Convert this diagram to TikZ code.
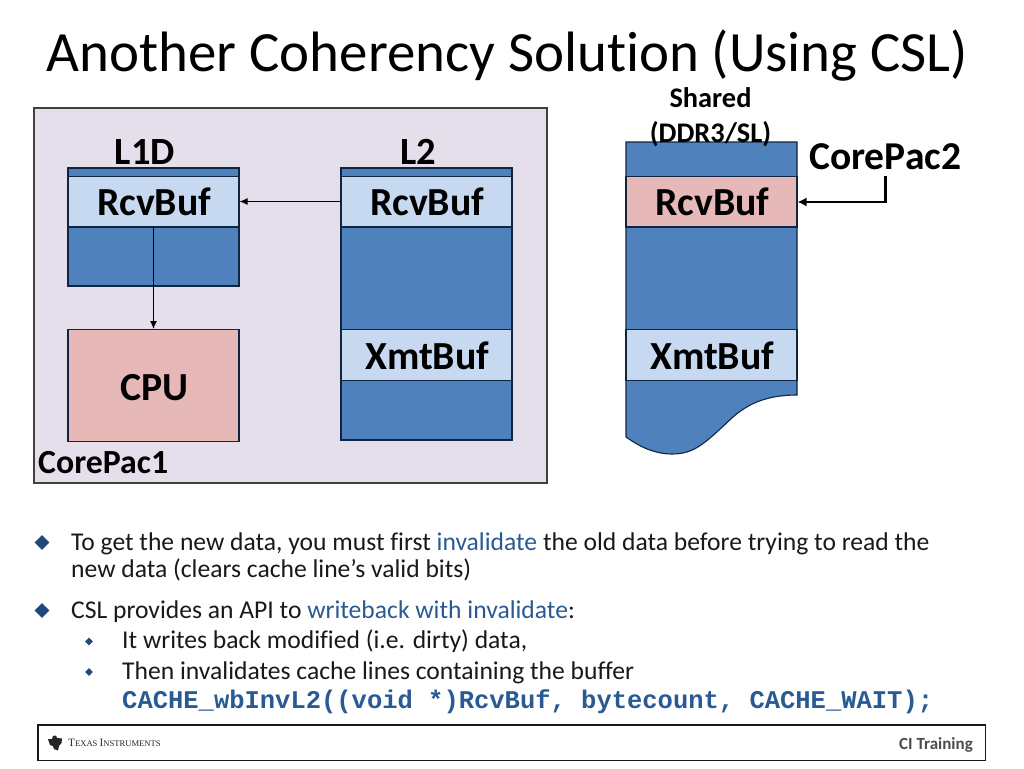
\documentclass[tikz,border=0pt]{standalone}
\usepackage{fontspec}
\setmainfont[RawFeature={-liga}]{Carlito}
\newfontfamily\codefont{Liberation Mono}
\newfontfamily\logofont{Liberation Serif}
\usetikzlibrary{arrows.meta,shapes.geometric}
\definecolor{panel}{HTML}{E5DFEC}
\definecolor{blockblue}{HTML}{4F81BD}
\definecolor{lightblue}{HTML}{C6D9F0}
\definecolor{pinkred}{HTML}{E6B9B8}
\definecolor{edgeblue}{HTML}{10253F}
\definecolor{accent}{HTML}{2A5A94}
\definecolor{bulletblue}{HTML}{1F497D}
\tikzset{
  x=1pt,y=-1pt,
  memblock/.style={draw=edgeblue,line width=1.1pt,fill=blockblue},
  bufblock/.style={draw=edgeblue,line width=1.1pt,fill=lightblue},
  redblock/.style={draw=edgeblue,line width=1.1pt,fill=pinkred},
  bigtext/.style={font=\fontsize{39.8}{39.8}\selectfont\bfseries,inner sep=0pt,anchor=center,yshift=-0.5pt,xshift=0.7pt},
  headtext/.style={font=\fontsize{38.5}{38.5}\selectfont\bfseries,inner sep=0pt,anchor=base},
  bodytext/.style={font=\fontsize{25.6}{25.6}\selectfont,inner sep=0pt,anchor=base west,text=black!90},
  thinarrow/.style={draw=black,line width=1.3pt,-{Latex[length=8pt,width=7pt]}},
  thickarrow/.style={draw=black,line width=2.6pt,-{Latex[length=9pt,width=9pt]}},
  bigbullet/.style={diamond,fill=bulletblue,inner sep=0pt,minimum width=15pt,minimum height=15pt},
  smallbullet/.style={diamond,fill=bulletblue,inner sep=0pt,minimum width=8pt,minimum height=8pt},
}
\begin{document}
\begin{tikzpicture}
\useasboundingbox (0,0) rectangle (1024,768);
\fill[white] (0,0) rectangle (1024,768);
\node[inner sep=0pt,anchor=base] (title) at (507.5,71) {\fontsize{56.9}{56.9}\selectfont Another Coherency Solution (Using CSL)};
% CorePac1 panel
\draw[fill=panel,draw=black!75,line width=1.3pt] (34,108) rectangle (547,483);
% L1D
\draw[memblock] (68,168) rectangle (239,286);
\draw[bufblock] (68,176.5) rectangle (239,227) node[midway,bigtext] (l1buf) {RcvBuf};
\draw[redblock] (68,329.5) rectangle (239,441.5) node[midway,bigtext,yshift=-1.5pt] (cpu) {CPU};
% L2
\draw[memblock] (341,168) rectangle (512,440);
\draw[bufblock] (341,176.5) rectangle (512,227) node[midway,bigtext] (l2buf) {RcvBuf};
\draw[bufblock] (341,329.5) rectangle (512,380.5) node[midway,bigtext] (l2xmt) {XmtBuf};
% Shared
\path[memblock] (626,142) -- (797,142) -- (797,395)
  .. controls (770,395) and (750,402) .. (733,417)
  .. controls (705,443) and (695,454) .. (672,454)
  .. controls (655,454) and (640,447) .. (626,437) -- cycle;
\draw[redblock] (626,176.5) rectangle (797,227) node[midway,bigtext] (shbuf) {RcvBuf};
\draw[bufblock] (626,329.5) rectangle (797,380.5) node[midway,bigtext] (shxmt) {XmtBuf};
% labels
\node[headtext] (l1dl) at (145,164) {L1D};
\node[headtext] (l2l) at (418.5,164) {L2};
\node[inner sep=0pt,anchor=base west,font=\fontsize{33.8}{33.8}\selectfont\bfseries] (cp1) at (38,473) {CorePac1};
\node[inner sep=0pt,anchor=base west,font=\fontsize{39.5}{39.5}\selectfont\bfseries] (cp2) at (809,169) {CorePac2};
\node[inner sep=0pt,anchor=base,font=\fontsize{28.4}{28.4}\selectfont\bfseries] (sh1) at (710.5,107) {Shared};
\node[inner sep=0pt,anchor=base,font=\fontsize{28.4}{28.4}\selectfont\bfseries] (sh2) at (710.5,142) {(DDR3/SL)};
% connectors
\coordinate (l2left) at (341,201.5);
\coordinate (l1right) at (239.5,201.5);
\coordinate (l1bottom) at (153.5,227);
\coordinate (cputop) at (153.5,329);
\coordinate (cpdrop) at (885.5,176);
\coordinate (cpelbow) at (885.5,202);
\coordinate (shright) at (797.5,202);
\draw[thinarrow] (l2left) -- (l1right);
\draw[thinarrow] (l1bottom) -- (cputop);
\draw[thickarrow] (cpdrop) -- (cpelbow) -- (shright);
% bullets
\node[bigbullet] (b1) at (42,542.5) {};
\node[bodytext] (t1a) at (71,550.5) {To get the new data, you must first \textcolor{accent}{invalidate} the old data before trying to read the};
\node[bodytext] (t1b) at (71,577.5) {new data (clears cache line’s valid bits)};
\node[bigbullet] (b2) at (42,610.5) {};
\node[bodytext] (t2) at (71,618.5) {CSL provides an API to \textcolor{accent}{writeback with invalidate}:};
\node[smallbullet] (b3) at (89,641.5) {};
\node[bodytext] (t3) at (122,648.5) {It writes back modified (i.e. dirty) data,};
\node[smallbullet] (b4) at (89,672) {};
\node[bodytext] (t4) at (122,679.5) {Then invalidates cache lines containing the buffer};
\node[inner sep=0pt,anchor=base west,font=\fontsize{25.5}{25.5}\selectfont\codefont\bfseries,text=accent] (t5) at (122,708) {CACHE\_wbInvL2((void *)RcvBuf, bytecount, CACHE\_WAIT);};
% footer
\draw[black!90,line width=1.1pt] (38,725) rectangle (985.5,760.5);
\fill[black!85] (48,739) -- (52,739) -- (53,736) -- (56,735.5) -- (57,738) -- (62,738.5) -- (61.5,743) -- (59,746) -- (58,750.5) -- (54,749) -- (53,746) -- (50,745) -- cycle;
\node[inner sep=0pt,anchor=base west,text=black!85] (ti) at (68,746) {\logofont\fontsize{11.2}{11.2}\selectfont T\fontsize{8.6}{8.6}\selectfont EXAS \fontsize{11.2}{11.2}\selectfont I\fontsize{8.6}{8.6}\selectfont NSTRUMENTS};
\node[inner sep=0pt,anchor=base east,text=black!70,font=\fontsize{17}{17}\selectfont\bfseries] (ci) at (973,749) {CI Training};
\end{tikzpicture}
\end{document}
